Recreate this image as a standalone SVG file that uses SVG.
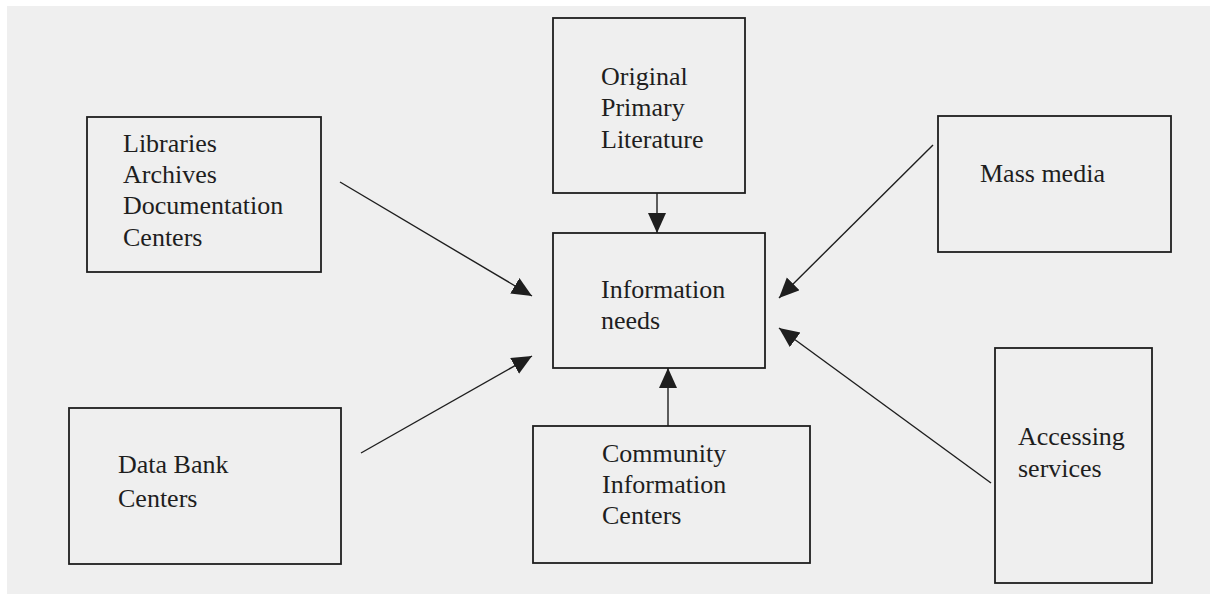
<svg xmlns="http://www.w3.org/2000/svg" width="1210" height="594" viewBox="0 0 1210 594">
<defs>
<style>
.box{fill:none;stroke:#1e1e1e;stroke-width:1.8}
.lbl{font-family:"Liberation Serif","Times New Roman",serif;font-size:26px;fill:#1e1e1e}
.conn{stroke:#1e1e1e;stroke-width:1.4;fill:none}
</style>
<marker id="ah" markerUnits="userSpaceOnUse" markerWidth="22" markerHeight="20" refX="20" refY="9" orient="auto" viewBox="0 0 22 20">
<path d="M0,0 L20,9 L0,18 z" fill="#1e1e1e"/>
</marker>
</defs>
<rect x="0" y="0" width="1210" height="594" fill="#ffffff"/>
<rect x="7" y="6" width="1203" height="588" fill="#efefef"/>
<g id="original">
<rect class="box" x="553" y="18" width="192" height="175"/>
<text class="lbl" x="601" y="85">Original</text>
<text class="lbl" x="601" y="116">Primary</text>
<text class="lbl" x="601" y="148">Literature</text>
</g>
<g id="libraries">
<rect class="box" x="87" y="117" width="234" height="155"/>
<text class="lbl" x="123" y="152">Libraries</text>
<text class="lbl" x="123" y="183">Archives</text>
<text class="lbl" x="123" y="214">Documentation</text>
<text class="lbl" x="123" y="246">Centers</text>
</g>
<g id="massmedia">
<rect class="box" x="938" y="116" width="233" height="136"/>
<text class="lbl" x="980" y="182">Mass media</text>
</g>
<g id="infoneeds">
<rect class="box" x="553" y="233" width="212" height="135"/>
<text class="lbl" x="601" y="298">Information</text>
<text class="lbl" x="601" y="329">needs</text>
</g>
<g id="databank">
<rect class="box" x="69" y="408" width="272" height="156"/>
<text class="lbl" x="118" y="473">Data Bank</text>
<text class="lbl" x="118" y="507">Centers</text>
</g>
<g id="community">
<rect class="box" x="533" y="426" width="277" height="137"/>
<text class="lbl" x="602" y="462">Community</text>
<text class="lbl" x="602" y="493">Information</text>
<text class="lbl" x="602" y="524">Centers</text>
</g>
<g id="accessing">
<rect class="box" x="995" y="348" width="157" height="235"/>
<text class="lbl" x="1018" y="445">Accessing</text>
<text class="lbl" x="1018" y="477">services</text>
</g>
<g id="connectors">
<line class="conn" x1="657" y1="193" x2="657" y2="233" marker-end="url(#ah)"/>
<line class="conn" x1="668" y1="426" x2="668" y2="368" marker-end="url(#ah)"/>
<line class="conn" x1="340" y1="182" x2="532" y2="296" marker-end="url(#ah)"/>
<line class="conn" x1="361" y1="453" x2="532" y2="356" marker-end="url(#ah)"/>
<line class="conn" x1="933" y1="145" x2="779" y2="298" marker-end="url(#ah)"/>
<line class="conn" x1="991" y1="483" x2="779" y2="328" marker-end="url(#ah)"/>
</g>
</svg>
